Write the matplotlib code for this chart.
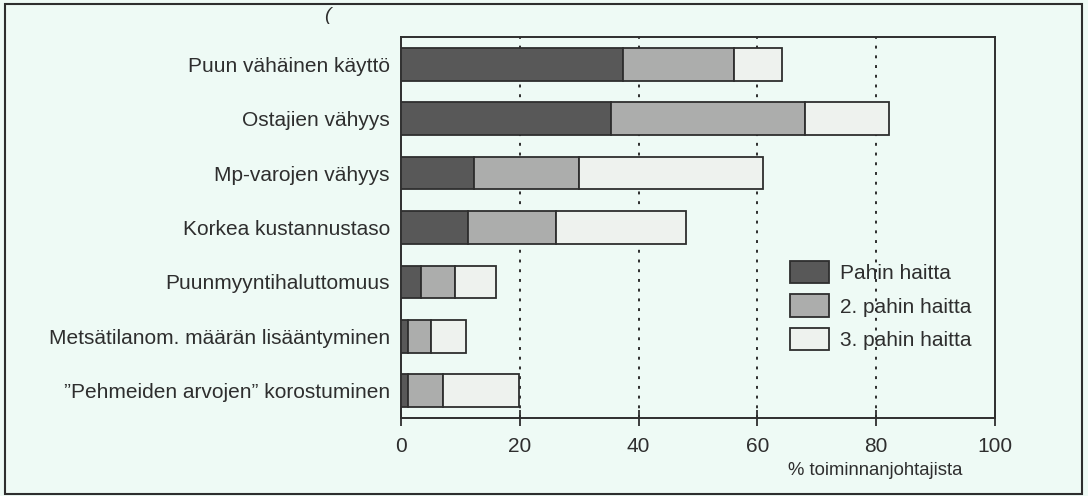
import matplotlib.pyplot as plt
from matplotlib.patches import Rectangle

plt.rcParams['font.family'] = ['Liberation Sans', 'DejaVu Sans']

# haitat, ylhäältä alas
categories = [
    'Puun vähäinen käyttö',
    'Ostajien vähyys',
    'Mp-varojen vähyys',
    'Korkea kustannustaso',
    'Puunmyyntihaluttomuus',
    'Metsätilanom. määrän lisääntyminen',
    '\u201dPehmeiden arvojen\u201d korostuminen',
]
pahin = [37.3, 35.3, 12.2, 11.2, 3.3, 1.1, 1.1]
toinen = [18.8, 32.7, 17.8, 14.9, 5.8, 3.9, 5.9]
kolmas = [8.0, 14.2, 30.9, 21.8, 6.9, 5.9, 12.9]
series_labels = ['Pahin haitta', '2. pahin haitta', '3. pahin haitta']
xticks = [0, 20, 40, 60, 80, 100]

bg = '#eefaf5'
ink = '#2e2e2e'
colors = ['#585858', '#acadac', '#eef2ee']

fig = plt.figure(figsize=(10.88, 4.96), dpi=100, facecolor=bg)
ax = fig.add_axes([0.3686, 0.1573, 0.546, 0.768], facecolor=bg)

y = list(range(len(categories)))
left = [0.0] * len(categories)
for vals, col, lab in zip([pahin, toinen, kolmas], colors, series_labels):
    ax.barh(y, vals, left=left, height=0.6, color=col, edgecolor=ink,
            linewidth=1.3, label=lab, zorder=3)
    left = [a + b for a, b in zip(left, vals)]

# pisteviivat
for gx in xticks[1:-1]:
    ax.axvline(gx, color=ink, linestyle=(0, (1.5, 3.5)), linewidth=1.4, zorder=1)

ax.set_xlim(0, 100)
ax.set_ylim(6.5, -0.5)
ax.set_xticks(xticks)
ax.set_yticks(y)
ax.set_yticklabels(categories)
ax.tick_params(axis='y', length=0, pad=8, labelsize=15, labelcolor=ink)
ax.tick_params(axis='x', direction='inout', length=11, width=1.3, color=ink,
               pad=8, labelsize=15, labelcolor=ink)
for s in ax.spines.values():
    s.set_color(ink)
    s.set_linewidth(1.4)

fig.text(788 / 1088, 1 - 475 / 496, '% toiminnanjohtajista', fontsize=13.3,
         color=ink, ha='left', va='baseline')

ax.legend(loc='upper left', bbox_to_anchor=(790 / 1088, 1 - 261 / 496),
          bbox_transform=fig.transFigure, frameon=False, fontsize=15,
          handlelength=1.85, handleheight=1.25, handletextpad=0.55,
          labelspacing=0.55, borderpad=0, borderaxespad=0, labelcolor=ink)

# kehys koko kuvan ympärillä
fig.patches.append(Rectangle((5 / 1088, 2 / 496), 1077 / 1088, 490 / 496,
                             transform=fig.transFigure, fill=False,
                             edgecolor=ink, linewidth=1.5))
fig.text(327 / 1088, 1 - 16 / 496, '(', fontsize=14, color=ink,
         ha='center', va='center', style='italic')

fig.savefig('out.png', dpi=100, facecolor=bg)
